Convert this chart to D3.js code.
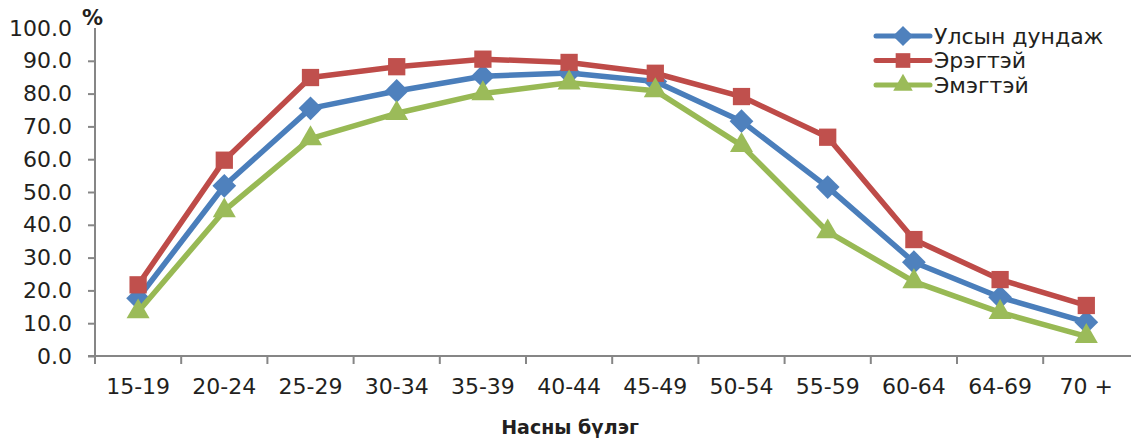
<!DOCTYPE html>
<html><head><meta charset="utf-8">
<script src="https://cdn.jsdelivr.net/npm/d3@7"></script>
<style>body{margin:0;background:#fff}svg{display:block}</style>
</head><body><svg id="c" width="1131" height="444"></svg>
<script>
const categories = ["15-19","20-24","25-29","30-34","35-39","40-44","45-49","50-54","55-59","60-64","64-69","70 +"];
const seriesNames = ["Улсын дундаж","Эрэгтэй","Эмэгтэй"];
const national = [17.6,51.9,75.5,80.8,85.3,86.3,83.7,71.6,51.5,28.6,17.9,10.3];
const male = [21.7,59.7,84.9,88.2,90.5,89.5,86.2,79.1,66.7,35.5,23.3,15.4];
const female = [13.5,44.3,66.3,74.0,80.0,83.3,80.9,64.2,37.9,22.7,13.3,6.0];
const yTicks = [0,10,20,30,40,50,60,70,80,90,100];
const yLabel = "%";
const xTitle = "Насны бүлэг";

(function(){
const series = [
  {name: seriesNames[0], values: national, line: "#4a7ebb", fill: "#4f81bd", sym: d3.symbolDiamond2, size: 360},
  {name: seriesNames[1], values: male, line: "#be4b48", fill: "#c0504d", sym: d3.symbolSquare2, size: 380},
  {name: seriesNames[2], values: female, line: "#98b954", fill: "#9bbb59", sym: d3.symbolTriangle2, size: 380}
];

const svg = d3.select("#c");
const mL = 95, mR = 1131, mT = 28, mB = 356;
const x = d3.scaleBand().domain(categories).range([mL, mL + 86.2*12]);
const y = d3.scaleLinear().domain([0,100]).range([mB, mT]);
const font = "DejaVu Sans, sans-serif";

// y axis
const ya = svg.append("g").attr("transform", `translate(${mL},0)`)
  .call(d3.axisLeft(y).tickValues(yTicks).tickFormat(d3.format(".1f")).tickSize(7).tickPadding(16));
ya.select(".domain").attr("stroke", "#868686").attr("stroke-width", 2).attr("d", `M0,${mT}V${mB}`);
ya.selectAll(".tick line").attr("stroke", "#868686").attr("stroke-width", 2);
ya.selectAll(".tick text").attr("font-family", font).attr("font-size", 22).attr("fill", "#231f20");
ya.selectAll(".tick").filter(d => d === 100).select("line").remove();

// x axis
const xa = svg.append("g").attr("transform", `translate(0,${mB})`)
  .call(d3.axisBottom(x).tickSize(0).tickPadding(20));
xa.select(".domain").attr("stroke", "#868686").attr("stroke-width", 2).attr("d", `M${mL-7},0H${mR}`);
xa.selectAll(".tick text").attr("font-family", font).attr("font-size", 22).attr("fill", "#231f20").attr("dy", "0.72em").attr("y", 22);
// category boundary ticks
svg.append("g").selectAll("line").data(categories).join("line")
  .attr("x1", d => x(d)).attr("x2", d => x(d))
  .attr("y1", mB).attr("y2", mB + 8)
  .attr("stroke", "#868686").attr("stroke-width", 2);

// lines and markers
const cx = (d, i) => x(categories[i]) + x.bandwidth()/2;
series.forEach(s => {
  const g = svg.append("g");
  g.append("path").datum(s.values)
    .attr("fill", "none").attr("stroke", s.line).attr("stroke-width", 5.5).attr("stroke-linejoin", "round")
    .attr("d", d3.line().x(cx).y(d => y(d)));
  g.selectAll("path.m").data(s.values).join("path").attr("class", "m")
    .attr("transform", (d, i) => `translate(${cx(d, i)},${y(d)})`)
    .attr("d", d3.symbol().type(s.sym).size(s.size))
    .attr("fill", s.fill);
});

// y-axis unit label
svg.append("text").attr("x", 82).attr("y", 25).attr("font-family", font).attr("font-weight", "bold")
  .attr("font-size", 21).attr("fill", "#231f20").text(yLabel);

// x title
svg.append("text").attr("x", 570).attr("y", 434).attr("text-anchor", "middle").attr("font-family", font)
  .attr("font-weight", "bold").attr("font-size", 19).attr("fill", "#231f20").text(xTitle);

// legend
const lg = svg.append("g");
series.forEach((s, i) => {
  const yy = 36 + i * 24.5;
  lg.append("line").attr("x1", 876).attr("x2", 930).attr("y1", yy).attr("y2", yy)
    .attr("stroke", s.line).attr("stroke-width", 5).attr("stroke-linecap", "round");
  lg.append("path").attr("transform", `translate(903,${yy})`)
    .attr("d", d3.symbol().type(s.sym).size(s.size * 0.72)).attr("fill", s.fill);
  lg.append("text").attr("x", 934).attr("y", yy).attr("dy", "0.36em").attr("font-family", font)
    .attr("font-size", 22).attr("fill", "#231f20").text(s.name);
});
})();
</script></body></html>
